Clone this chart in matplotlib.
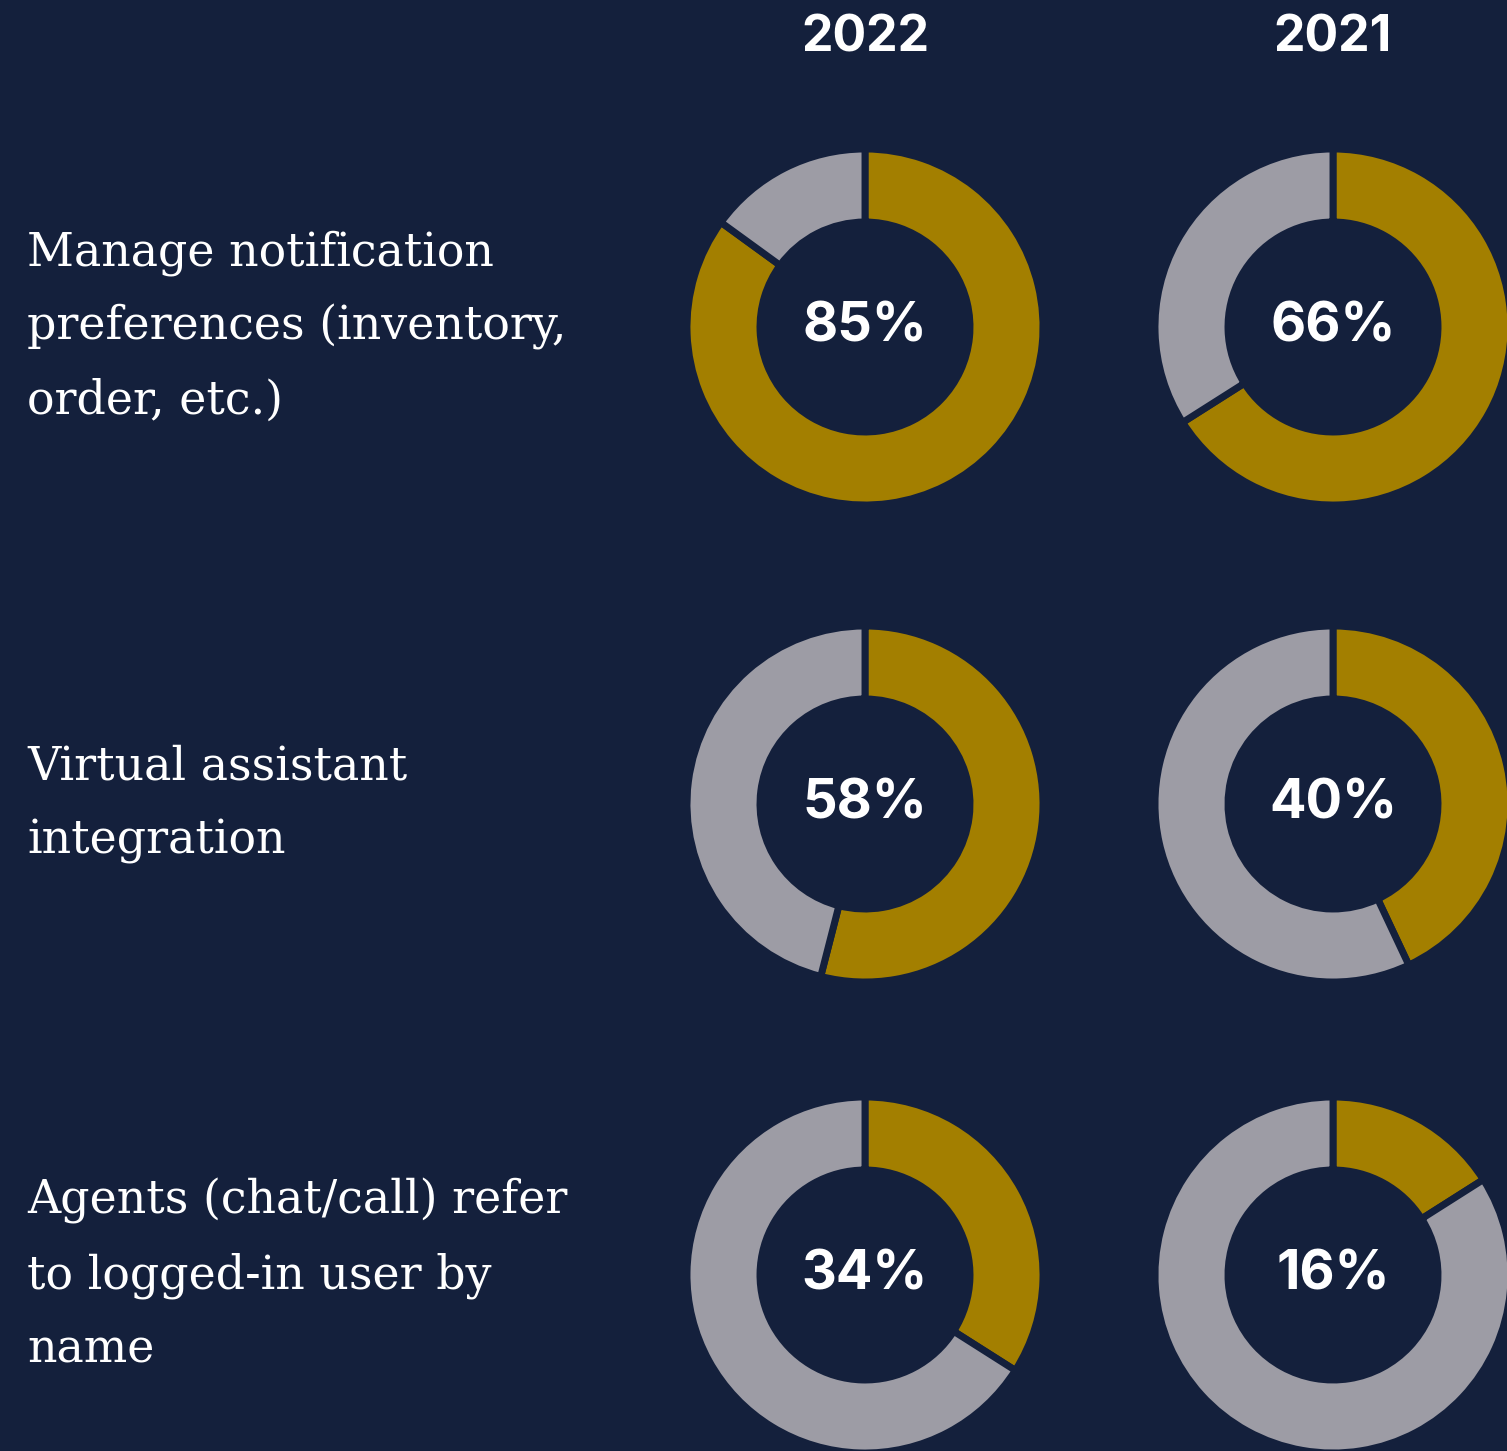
import matplotlib
matplotlib.use("Agg")
import matplotlib.pyplot as plt

# data
years = ["2022", "2021"]
features = [
    "Manage notification\npreferences (inventory,\norder, etc.)",
    "Virtual assistant\nintegration",
    "Agents (chat/call) refer\nto logged-in user by\nname",
]
# printed percentages
pct_2022 = [85, 58, 34]
pct_2021 = [66, 40, 16]
# share of ring drawn in gold (as read from the arcs)
ring_2022 = [85, 54, 34]
ring_2021 = [66, 43, 16]

bg = "#14203c"
gold = "#a37f00"
gray = "#9d9ca5"

W, H = 1507, 1451
fig = plt.figure(figsize=(W / 100, H / 100), dpi=100, facecolor=bg)
ax = fig.add_axes([0, 0, 1, 1])
ax.set_facecolor(bg)

col_x = [865, 1333]
row_y = [H - 327, H - 804, H - 1275]
r_out, ring = 178, 73

for cx, yr in zip(col_x, years):
    ax.text(cx, H - 38, yr, color="white", fontsize=36, fontweight="bold",
            family="Inter", ha="center", va="center")

for i, label in enumerate(features):
    cy = row_y[i]
    ax.text(27, cy, label, color="white", fontsize=33, family="DejaVu Serif",
            ha="left", va="center", linespacing=1.8)
    for cx, pcts, rings in zip(col_x, [pct_2022, pct_2021], [ring_2022, ring_2021]):
        r = rings[i]
        ax.pie([r, 100 - r], colors=[gold, gray], startangle=90, counterclock=False,
               center=(cx, cy), radius=r_out, frame=True,
               wedgeprops=dict(width=ring, edgecolor=bg, linewidth=5, joinstyle="round"))
        ax.text(cx, cy, f"{pcts[i]}%", color="white", fontsize=39, fontweight="bold",
                family="Inter", ha="center", va="center")

ax.set_xlim(0, W)
ax.set_ylim(0, H)
ax.set_aspect("equal")
ax.axis("off")
fig.savefig("out.png", dpi=100, facecolor=bg)
